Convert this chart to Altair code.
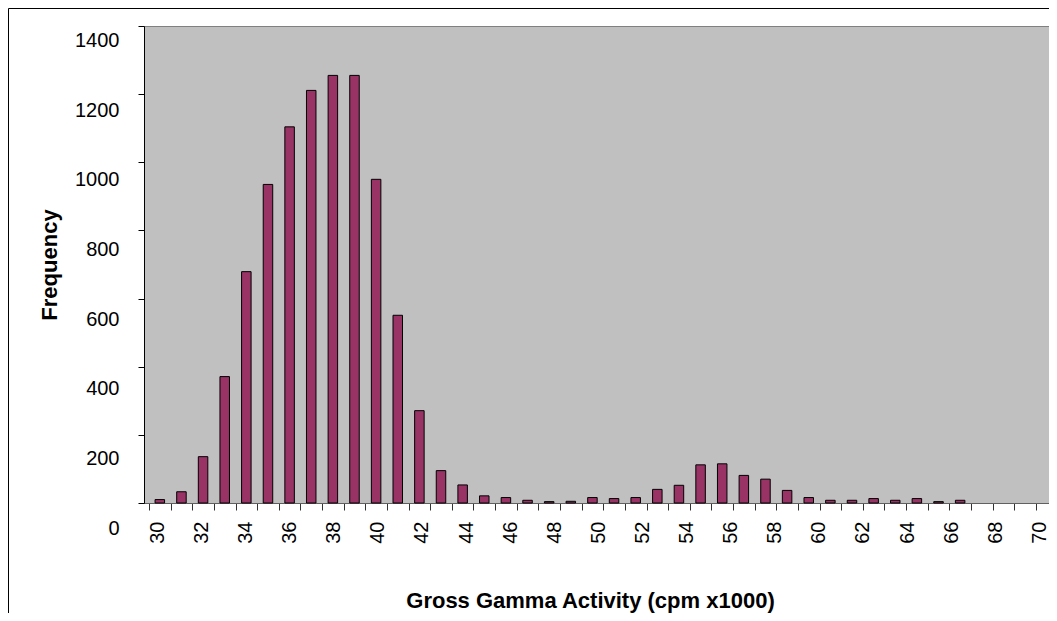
import altair as alt
import pandas as pd

# ---- data ----
activity = list(range(30, 71))
frequency = [10, 33, 136, 371, 679, 935, 1104, 1211, 1255, 1255,
             950, 551, 271, 95, 53, 21, 16, 8, 4, 5,
             16, 13, 16, 40, 52, 112, 115, 81, 70, 37,
             16, 8, 8, 13, 8, 13, 4, 8, 0, 0, 0]
y_tick_values = [0, 200, 400, 600, 800, 1000, 1200, 1400]
x_label_values = list(range(30, 71, 2))
x_tick_values = [v + 0.5 for v in range(29, 71)]

df = pd.DataFrame({"activity": activity, "freq": frequency})

FONT = "Liberation Sans"

x_axis = alt.Axis(
    values=x_tick_values + x_label_values,
    labelExpr="datum.value % 2 == 0 ? toString(datum.value) : ''",
    labelAngle=-90, labelAlign="right", labelBaseline="middle",
    labelFont=FONT, labelFontSize=20, labelColor="black",
    labelPadding=11, labelOverlap=False, labelFlush=False, labelBound=False,
    labelOffset={"expr": "-2.5 + (datum.value - 30) * 0.42"},
    tickSize=7, tickColor="#333333", tickWidth=1,
    tickOpacity={"condition": {"test": "datum.value % 1 == 0", "value": 0}, "value": 1},
    domainColor="#606060", domainWidth=1, grid=False,
    title="Gross Gamma Activity (cpm x1000)",
    titleFont=FONT, titleFontSize=22, titleFontWeight="bold", titleColor="black",
    titleX=446, titleY=104, titleAlign="center", titleBaseline="alphabetic",
)

y_axis = alt.Axis(
    values=y_tick_values, format="d",
    labelFont=FONT, labelFontSize=20, labelColor="black",
    labelPadding=19, labelBaseline="middle",
    labelOffset={"expr": "14.7 + (1400 - datum.value) / 1400 * 10.3"},
    labelOverlap=False, labelFlush=False,
    tickSize=6, tickColor="black", tickWidth=1,
    domainColor="black", domainWidth=1, grid=False,
    title="Frequency",
    titleFont=FONT, titleFontSize=22, titleFontWeight="bold", titleColor="black",
    titleAngle=-90, titleX=-95, titleY=238.5, titleAlign="center", titleBaseline="middle",
)

bars = alt.Chart(df).transform_filter("datum.freq > 0").mark_bar(
    size=9.5, color="#993366", stroke="black", strokeWidth=1
).encode(
    x=alt.X("activity:Q", scale=alt.Scale(domain=[29.5, 71.2], nice=False, zero=False), axis=x_axis),
    y=alt.Y("freq:Q", scale=alt.Scale(domain=[0, 1400], nice=False, zero=True), axis=y_axis),
)

frame_df = pd.DataFrame({"a": [0]})
frame_left = alt.Chart(frame_df).mark_rule(color="black", strokeWidth=1).encode(
    x=alt.value(-135.5), y=alt.value(-17.5), y2=alt.value(600)
)
frame_top = alt.Chart(frame_df).mark_rule(color="black", strokeWidth=1).encode(
    x=alt.value(-135.5), x2=alt.value(908), y=alt.value(-17.5)
)

chart = alt.layer(bars, frame_left, frame_top).properties(
    width=912, height=477,
    padding={"left": 136, "top": 18, "right": -7, "bottom": 110},
    autosize=alt.AutoSizeParams(type="none"),
    background="white",
).configure_view(
    fill="#C0C0C0", stroke="#808080", strokeWidth=1
)

chart.save("out.html", embed_options={"renderer": "svg", "actions": False})
